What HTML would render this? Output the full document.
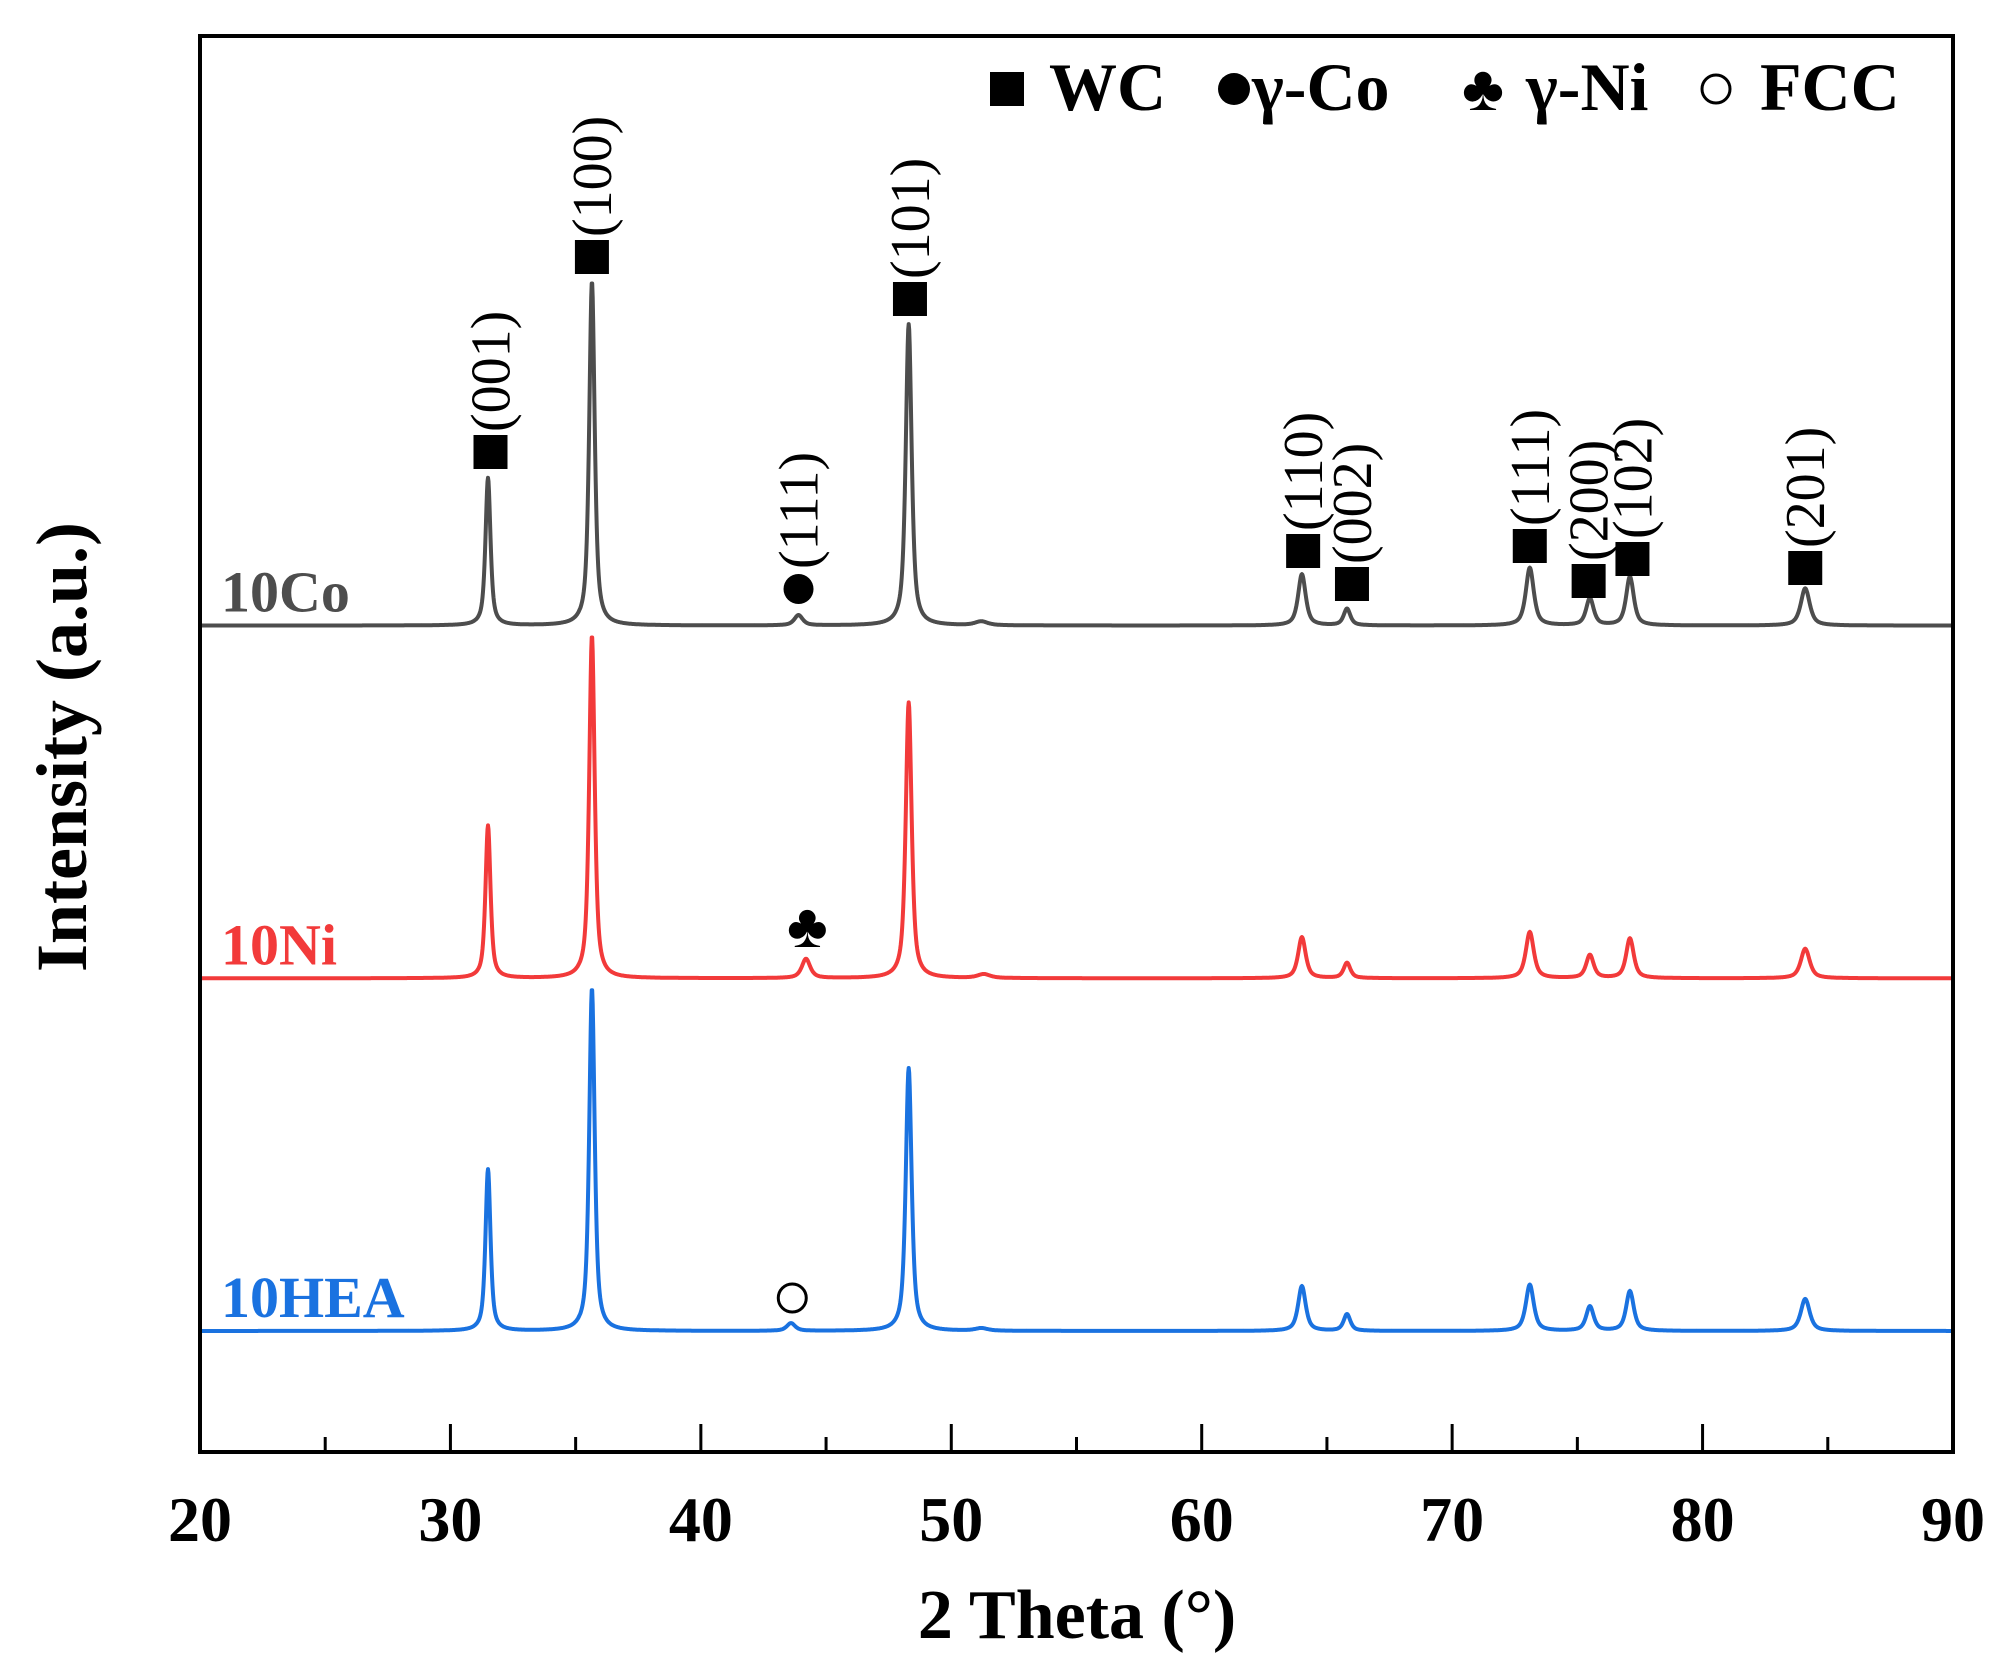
<!DOCTYPE html>
<html><head><meta charset="utf-8"><style>
html,body{margin:0;padding:0;background:#fff}
svg{display:block}
text{font-family:"Liberation Serif","DejaVu Serif",serif}
</style></head><body>
<svg id="chart" width="2011" height="1673" viewBox="0 0 2011 1673" xmlns="http://www.w3.org/2000/svg">
<rect x="0" y="0" width="2011" height="1673" fill="#fff"/>
<g id="series"></g>
<g id="annot"></g>
<rect x="200" y="36" width="1753" height="1416" fill="none" stroke="#000" stroke-width="4"/>
<g id="ticks"></g>
<text x="1077" y="1638" font-size="70" font-weight="bold" text-anchor="middle">2 Theta (°)</text>
<text transform="translate(86,747) rotate(-90)" font-size="72" font-weight="bold" text-anchor="middle">Intensity (a.u.)</text>
<g font-size="68" font-weight="bold">
<rect x="990" y="72" width="34" height="34" fill="#000"/>
<text x="1049" y="110">WC</text>
<circle cx="1234" cy="89" r="16" fill="#000"/>
<text x="1252" y="110">γ-Co</text>
<text x="1483" y="110" font-size="64" text-anchor="middle">♣</text>
<text x="1526" y="110">γ-Ni</text>
<circle cx="1716" cy="89" r="14" fill="none" stroke="#000" stroke-width="3"/>
<text x="1760" y="110">FCC</text>
</g>
</svg>
<script>
// ---- data ----
const peakPositions = [31.5, 35.65, 43.9, 48.3, 51.2, 64.0, 65.8, 73.1, 75.5, 77.1, 84.1];
const peakWidths    = [0.24, 0.26, 0.4, 0.28, 0.6, 0.36, 0.32, 0.38, 0.36, 0.36, 0.42];
const co10Heights   = [115, 268, 8, 235, 3, 40, 13, 45, 21, 38, 29];
const ni10Heights   = [119, 267, 15, 215, 3, 32, 12, 36, 18, 31, 23];
const hea10Heights  = [126, 267, 6, 205, 2, 35, 13, 36, 19, 31, 25];
const seriesNames   = ["10Co", "10Ni", "10HEA"];
const seriesOffsets = [0, 275, 550]; // stacked offset (intensity units) from the bottom trace
const xTicks        = [20, 30, 40, 50, 60, 70, 80, 90];
const xMinorTicks   = [25, 35, 45, 55, 65, 75, 85];

// ---- axes ----
const X0 = 200, X1 = 1953, Y0 = 36, Y1 = 1452;
const xMin = 20, xMax = 90;
const xs = v => X0 + (v - xMin) / (xMax - xMin) * (X1 - X0);
const yScale = 1.2826, baseBottom = 1331;
const ys = v => baseBottom - v * yScale;

const NS = "http://www.w3.org/2000/svg";
const colors = ["#4d4d4d", "#f23a3a", "#1a72e0"];
const heightsAll = [co10Heights, ni10Heights, hea10Heights];
const gS = document.getElementById("series");
const shiftNi = [0,0,0.3,0,0.1,0,0,0,0,0,0];
const shiftHea = [0,0,-0.3,0,0,0,0,0,0,0,0];
const shifts = [[0,0,0,0,0,0,0,0,0,0,0], shiftNi, shiftHea];

function intensity(s, t) {
  let v = 0;
  const h = heightsAll[s];
  for (let i = 0; i < peakPositions.length; i++) {
    const c = peakPositions[i] + shifts[s][i], w = peakWidths[i] / 2;
    const d = (t - c) / w;
    v += h[i] * (0.7 / (1 + d * d) + 0.3 * Math.exp(-0.693 * d * d));
  }
  return v;
}
for (let s = 0; s < 3; s++) {
  let d = "";
  for (let t = xMin; t <= xMax + 1e-9; t += 0.02) {
    const v = intensity(s, t) + seriesOffsets[2 - s];
    d += (d ? "L" : "M") + xs(t).toFixed(1) + " " + ys(v).toFixed(1);
  }
  const p = document.createElementNS(NS, "path");
  p.setAttribute("d", d);
  p.setAttribute("fill", "none");
  p.setAttribute("stroke", colors[s]);
  p.setAttribute("stroke-width", "4");
  p.setAttribute("stroke-linejoin", "round");
  
  
  gS.appendChild(p);
  const lb = document.createElementNS(NS, "text");
  lb.setAttribute("x", 221);
  lb.setAttribute("y", ys(seriesOffsets[2 - s]) - 14);
  lb.setAttribute("font-size", "58");
  lb.setAttribute("font-weight", "bold");
  lb.setAttribute("fill", colors[s]);
  lb.textContent = seriesNames[s];
  
  
  gS.appendChild(lb);
}

// ---- ticks ----
const gT = document.getElementById("ticks");
xTicks.forEach(v => {
  const l = document.createElementNS(NS, "line");
  l.setAttribute("x1", xs(v)); l.setAttribute("x2", xs(v));
  l.setAttribute("y1", Y1); l.setAttribute("y2", Y1 - 28);
  l.setAttribute("stroke", "#000"); l.setAttribute("stroke-width", "3");
  
  
  gT.appendChild(l);
  const t = document.createElementNS(NS, "text");
  t.setAttribute("x", xs(v)); t.setAttribute("y", 1541);
  t.setAttribute("font-size", "64"); t.setAttribute("font-weight", "bold");
  t.setAttribute("text-anchor", "middle");
  t.textContent = v;
  
  
  gT.appendChild(t);
});
xMinorTicks.forEach(v => {
  const l = document.createElementNS(NS, "line");
  l.setAttribute("x1", xs(v)); l.setAttribute("x2", xs(v));
  l.setAttribute("y1", Y1); l.setAttribute("y2", Y1 - 15);
  l.setAttribute("stroke", "#000"); l.setAttribute("stroke-width", "3");
  
  
  gT.appendChild(l);
});

// ---- annotations ----
const annX     = [31.6, 35.65, 43.9, 48.35, 64.05, 66.0, 73.1, 75.45, 77.2, 84.1];
const annLabel = ["(001)","(100)","(111)","(101)","(110)","(002)","(111)","(200)","(102)","(201)"];
const annMarkY = [452, 257, 589, 299, 551, 584, 546, 581, 559, 568];
const annType  = ["s","s","c","s","s","s","s","s","s","s"];
const gA = document.getElementById("annot");
for (let i = 0; i < annX.length; i++) {
  const cx = xs(annX[i]), cy = annMarkY[i];
  let m;
  if (annType[i] === "s") {
    m = document.createElementNS(NS, "rect");
    m.setAttribute("x", cx - 17); m.setAttribute("y", cy - 17);
    m.setAttribute("width", 34); m.setAttribute("height", 34);
  } else {
    m = document.createElementNS(NS, "circle");
    m.setAttribute("cx", cx); m.setAttribute("cy", cy); m.setAttribute("r", 15);
  }
  m.setAttribute("fill", "#000");
  
  
  gA.appendChild(m);
  const t = document.createElementNS(NS, "text");
  t.setAttribute("transform", "translate(" + (cx + 19) + "," + (cy - 20) + ") rotate(-90)");
  t.setAttribute("font-size", "56");
  t.textContent = annLabel[i];
  
  
  gA.appendChild(t);
}
const club = document.createElementNS(NS, "text");
club.setAttribute("x", xs(44.25)); club.setAttribute("y", 947);
club.setAttribute("font-size", "62"); club.setAttribute("text-anchor", "middle");
club.textContent = "♣";


gA.appendChild(club);
const oc = document.createElementNS(NS, "circle");
oc.setAttribute("cx", xs(43.65)); oc.setAttribute("cy", 1298); oc.setAttribute("r", 14);
oc.setAttribute("fill", "none"); oc.setAttribute("stroke", "#000"); oc.setAttribute("stroke-width", "3");


gA.appendChild(oc);
</script>
</body></html>
